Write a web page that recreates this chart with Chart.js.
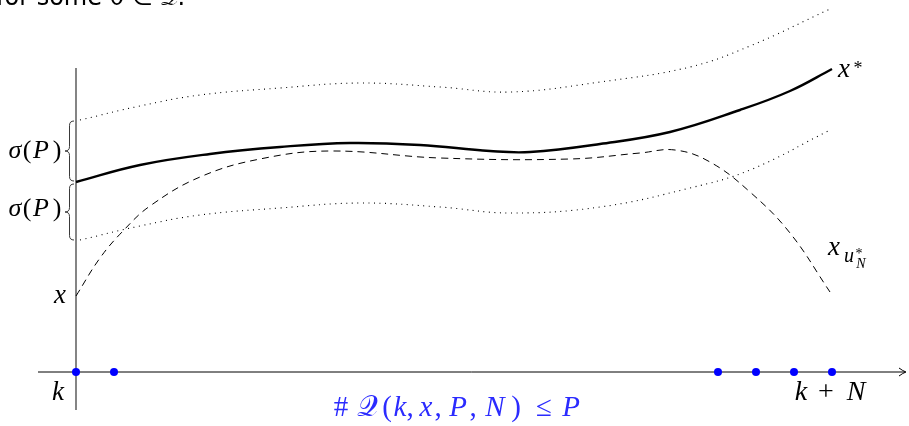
<!DOCTYPE html>
<html>
<head>
<meta charset="utf-8">
<script src="https://cdn.jsdelivr.net/npm/chart.js@4"></script>
<style>
html,body{margin:0;padding:0;background:#fff;}
canvas{display:block;}
</style>
</head>
<body>
<canvas id="c" width="909" height="426"></canvas>
<script>
// Data (horizontal coordinate t, vertical coordinate v; units are the figure's)
const tStar  = [76, 140, 210, 280, 350, 420, 490, 530, 600, 670, 740, 790, 832];
const vStar  = [182, 165, 154, 147, 143, 145, 151, 152, 144, 132, 110, 91, 69];
const tUpper = [80, 140, 200, 280, 360, 440, 510, 600, 690, 750, 830];
const vUpper = [120, 106, 95, 88, 83, 87, 92, 82, 67, 46, 9];
const tLower = [80, 140, 200, 280, 360, 440, 510, 600, 690, 750, 830];
const vLower = [240, 226, 215, 208, 203, 207, 213, 207, 188, 170, 130];
const tDash  = [76, 100, 123, 150, 200, 260, 330, 440, 570, 640, 675, 710, 750, 790, 830];
const vDash  = [296, 258, 231, 206, 177, 159, 151, 158, 159, 153, 150, 162, 192, 233, 292];
const tPoints = [76, 114, 718, 756, 794, 832];
const axisY = 372;
const axisX = 76;
// caption pieces: [text, italic] and their centres
const captionParts = [['#',0],['𝒬',0],['(',0],['k',1],[',',0],['x',1],[',',0],['P',1],[',',0],['N',1],[')',0],['≤',0],['P',1]];
const captionX     = [341, 367, 387, 400, 410, 426, 438, 458, 473, 495, 516, 544, 571];

function pts(t, v){ return t.map((x,i)=>({x:x, y:v[i]})); }

const annot = {
  id:'annot',
  afterDatasetsDraw(chart){
    const ctx = chart.ctx, xs = chart.scales.x, ys = chart.scales.y;
    const X = v=>xs.getPixelForValue(v), Y = v=>ys.getPixelForValue(v);
    ctx.save();
    // arrow head on horizontal axis
    ctx.strokeStyle='#000'; ctx.lineWidth=1;
    ctx.beginPath();
    ctx.moveTo(X(899),Y(axisY-4)); ctx.quadraticCurveTo(X(903),Y(axisY-1),X(906),Y(axisY));
    ctx.quadraticCurveTo(X(903),Y(axisY+1),X(899),Y(axisY+4));
    ctx.stroke();
    // braces
    function brace(x, y1, y2, w){
      const ym=(y1+y2)/2;
      ctx.beginPath();
      ctx.moveTo(X(x),Y(y1));
      ctx.quadraticCurveTo(X(x-w/2),Y(y1),X(x-w/2),Y(y1+w/2));
      ctx.lineTo(X(x-w/2),Y(ym-w/2));
      ctx.quadraticCurveTo(X(x-w/2),Y(ym),X(x-w),Y(ym));
      ctx.quadraticCurveTo(X(x-w/2),Y(ym),X(x-w/2),Y(ym+w/2));
      ctx.lineTo(X(x-w/2),Y(y2-w/2));
      ctx.quadraticCurveTo(X(x-w/2),Y(y2),X(x),Y(y2));
      ctx.stroke();
    }
    ctx.strokeStyle='#222'; ctx.lineWidth=0.9;
    brace(74, 121, 181, 9);
    brace(74, 184, 240, 9);
    // text (centred on measured glyph centres)
    const serif = '"Liberation Serif", "DejaVu Serif", serif';
    const it = s=>'italic '+s+'px '+serif, up = s=>s+'px '+serif;
    function t(str, x, y, font){ ctx.font=font; ctx.fillText(str, X(x), Y(y)); }
    ctx.fillStyle='#000';
    ctx.textBaseline='alphabetic';
    ctx.textAlign='center';
    for (const b of [158, 216]) {
      t('σ', 15, b, it(26));
      t('(', 27, b, up(26));
      t('P', 41, b, it(26));
      t(')', 57, b, up(26));
    }
    t('x', 60, 303, it(27));
    t('k', 58, 400, it(27));
    t('k', 801, 400, it(28));
    t('+', 826, 400, up(28));
    t('N', 856, 400, it(28));
    t('x', 844, 77, it(27));
    t('*', 858, 74, up(18));
    t('x', 834, 255, it(27));
    t('u', 849, 262, it(20));
    t('*', 859, 258, up(14));
    t('N', 861, 268, it(14));
    // blue caption
    ctx.fillStyle='#2b2bff';
    captionParts.forEach((p,i)=>{
      t(p[0], captionX[i], 416, p[1] ? it(29) : up(29));
    });
    // top clipped text
    ctx.textAlign='left';
    ctx.fillStyle='#000';
    ctx.font='24px "DejaVu Sans", sans-serif';
    ctx.fillText('for some ϑ ∈ 𝒬.', X(-4), Y(5));
    ctx.restore();
  }
};

new Chart(document.getElementById('c'), {
  type:'scatter',
  data:{datasets:[
    {data: tPoints.map(x=>({x:x,y:axisY})), showLine:false, pointRadius:4, pointBackgroundColor:'#0000ff', pointBorderWidth:0, order:0},
    {data: pts(tStar,vStar), showLine:true, borderColor:'#000', borderWidth:2.4, pointRadius:0, tension:0.4, order:1},
    {data: pts(tUpper,vUpper), showLine:true, borderColor:'#000', borderWidth:1.1, borderDash:[1,4.5], pointRadius:0, tension:0.4, order:2},
    {data: pts(tLower,vLower), showLine:true, borderColor:'#000', borderWidth:1.1, borderDash:[1,4.5], pointRadius:0, tension:0.4, order:3},
    {data: pts(tDash,vDash), showLine:true, borderColor:'#000', borderWidth:1, borderDash:[7,5], pointRadius:0, tension:0.4, order:4},
    {data: [{x:38,y:axisY},{x:905,y:axisY}], showLine:true, borderColor:'#000', borderWidth:1, pointRadius:0, order:5},
    {data: [{x:axisX,y:68},{x:axisX,y:410}], showLine:true, borderColor:'#444', borderWidth:1.3, pointRadius:0, order:6}
  ]},
  options:{
    responsive:false, animation:false, devicePixelRatio:1,
    layout:{padding:0, autoPadding:false},
    plugins:{legend:{display:false}, tooltip:{enabled:false}},
    scales:{
      x:{type:'linear', min:0, max:909, display:false},
      y:{type:'linear', min:0, max:426, reverse:true, display:false}
    }
  },
  plugins:[annot]
});
</script>
</body>
</html>
